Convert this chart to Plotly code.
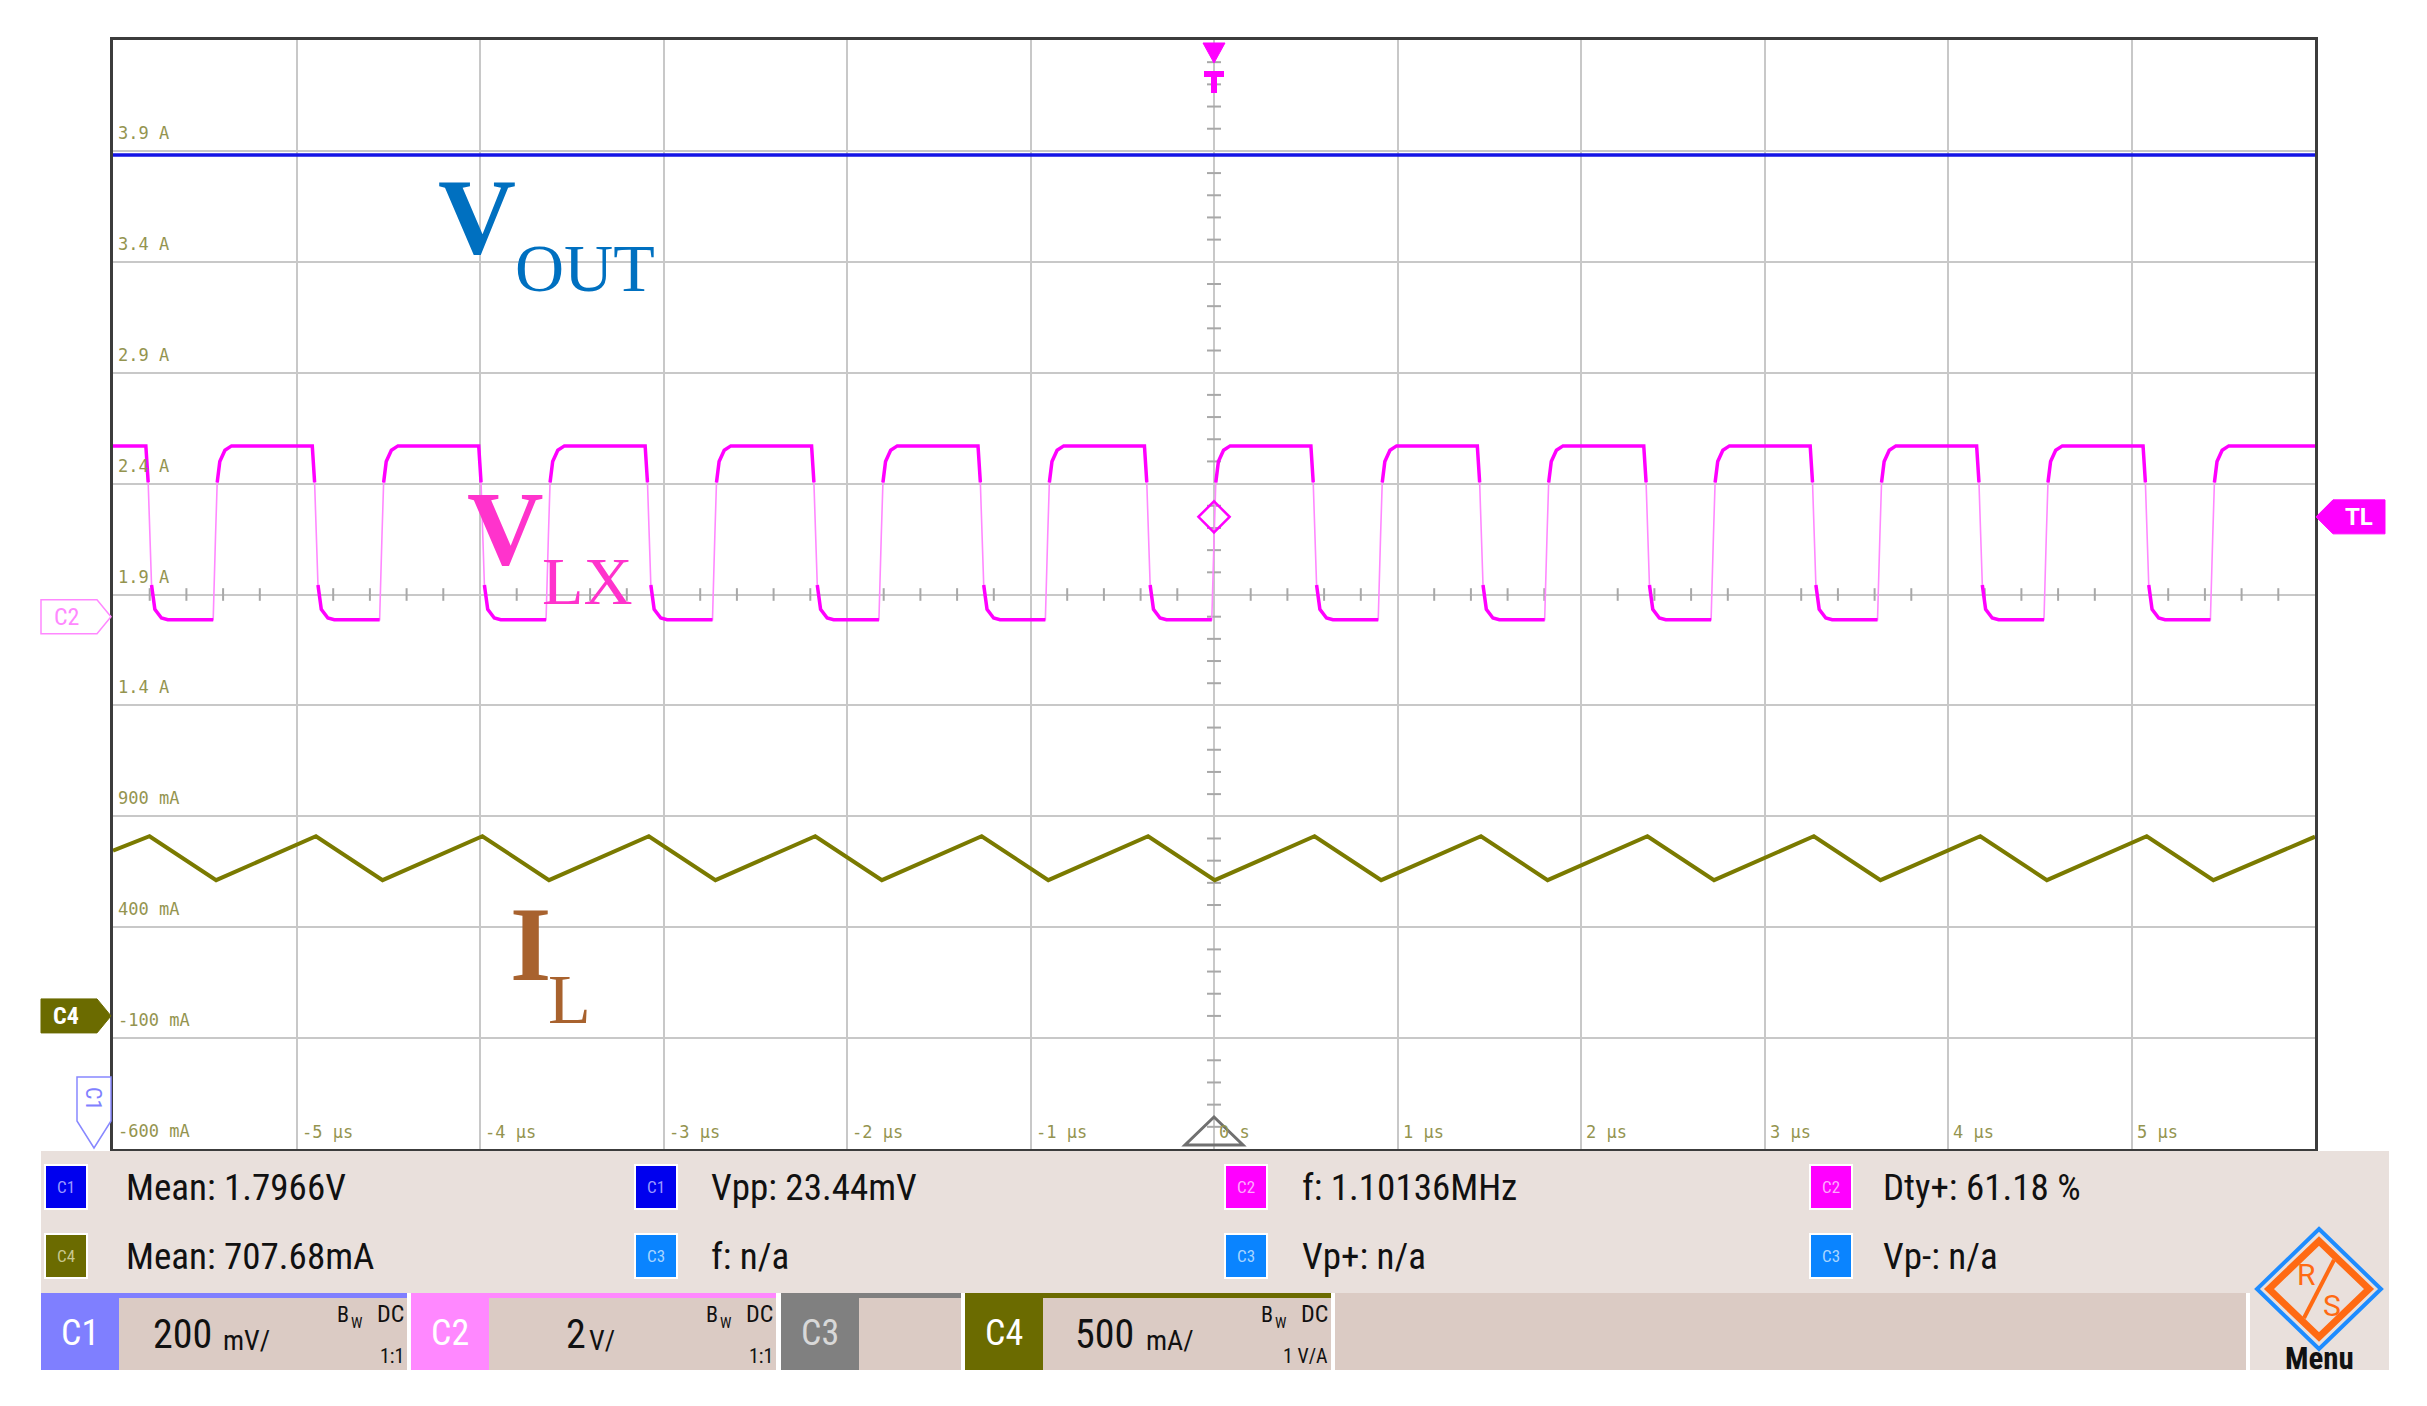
import plotly.graph_objects as go

time_ticks_us = [-5, -4, -3, -2, -1, 0, 1, 2, 3, 4, 5]
time_tick_labels = ["-5 µs", "-4 µs", "-3 µs", "-2 µs", "-1 µs", "0 s",
                    "1 µs", "2 µs", "3 µs", "4 µs", "5 µs"]
level_ticks = [3.9, 3.4, 2.9, 2.4, 1.9, 1.4, 0.9, 0.4, -0.1, -0.6]
level_tick_labels = ["3.9 A", "3.4 A", "2.9 A", "2.4 A", "1.9 A", "1.4 A",
                     "900 mA", "400 mA", "-100 mA", "-600 mA"]

# VOUT (C1), displayed position on the C4 graticule
vout_t_us = [-6.0, 6.0]
vout_level = [3.881, 3.881]

# VLX (C2) switching node: edge times and levels
vlx_rise_us = [-5.454, -4.547, -3.640, -2.733, -1.826, -0.919, -0.012,
               0.895, 1.802, 2.709, 3.616, 4.523, 5.430]
vlx_fall_us = [-5.821, -4.914, -4.007, -3.100, -2.193, -1.286, -0.379,
               0.528, 1.435, 2.342, 3.249, 4.156, 5.063]
vlx_high = 2.57
vlx_low = 1.786
trigger_level = 2.25

# IL (C4) inductor current: vertices of the triangle wave
il_t_us = [-6.0, -5.801, -5.438, -4.894, -4.531, -3.987, -3.624, -3.080, -2.717,
           -2.173, -1.810, -1.266, -0.903, -0.359, 0.004, 0.548, 0.911, 1.455,
           1.818, 2.362, 2.725, 3.269, 3.632, 4.176, 4.539, 5.083, 5.446, 6.0]
il_level = [0.745, 0.81, 0.612, 0.81, 0.612, 0.81, 0.612, 0.81, 0.612,
            0.81, 0.612, 0.81, 0.612, 0.81, 0.612, 0.81, 0.612, 0.81,
            0.612, 0.81, 0.612, 0.81, 0.612, 0.81, 0.612, 0.81, 0.612, 0.808]

# measurement panel
info_items = [
    ("C1", "#0000ee", "#9a9aff", "Mean: 1.7966V", 0, 0),
    ("C1", "#0000ee", "#9a9aff", "Vpp: 23.44mV", 1, 0),
    ("C2", "#ff00ff", "#ffa8ff", "f: 1.10136MHz", 2, 0),
    ("C2", "#ff00ff", "#ffa8ff", "Dty+: 61.18 %", 3, 0),
    ("C4", "#6b6b00", "#c8c890", "Mean: 707.68mA", 0, 1),
    ("C3", "#0a84ff", "#a8d4ff", "f: n/a", 1, 1),
    ("C3", "#0a84ff", "#a8d4ff", "Vp+: n/a", 2, 1),
    ("C3", "#0a84ff", "#a8d4ff", "Vp-: n/a", 3, 1),
]
channel_boxes = [
    ("C1", "#7f7fff", "white", "200", "mV/", "1:1"),
    ("C2", "#ff88ff", "white", "2", "V/", "1:1"),
    ("C3", "#808080", "#d8d8d8", None, None, None),
    ("C4", "#6b6b00", "white", "500", "mA/", "1 V/A"),
]

# ---------------- layout geometry (pixels of the target picture) ----------------
PAGE_OFF = 8                     # default body margin of the html page
W, H = 2427 - 2 * PAGE_OFF, 1406 - 2 * PAGE_OFF
L, R, T, B = 113, 2315, 40, 1149
Y0, Y1 = -0.6, 4.4
X0, X1 = -6.0, 6.0

NARROW = "Liberation Sans Narrow, Arial Narrow, Roboto Condensed, Roboto, sans-serif"
SANS = "Roboto, sans-serif"
SERIF = "Liberation Serif, Times New Roman, serif"
MONO = "DejaVu Sans Mono, Liberation Mono, monospace"


def xp(px):
    return (px - L) / (R - L)


def yp(py):
    return (B - py) / (B - T)


def py_of(v):
    return B - (v - Y0) / (Y1 - Y0) * (B - T)


shapes = []
annotations = []


def rect(x0, y0, x1, y1, fill, line_color=None, lw=0):
    shapes.append(dict(type="rect", xref="paper", yref="paper",
                       x0=xp(x0), x1=xp(x1), y0=yp(y1), y1=yp(y0),
                       fillcolor=fill, line=dict(width=lw, color=line_color or fill),
                       layer="above"))


def poly(points, fill, line_color, lw):
    path = "M " + " L ".join(f"{xp(x):.6f},{yp(y):.6f}" for x, y in points) + " Z"
    shapes.append(dict(type="path", xref="paper", yref="paper", path=path,
                       fillcolor=fill, line=dict(color=line_color, width=lw),
                       layer="above"))


def seg(x0, y0, x1, y1, color, lw):
    shapes.append(dict(type="line", xref="paper", yref="paper",
                       x0=xp(x0), x1=xp(x1), y0=yp(y0), y1=yp(y1),
                       line=dict(color=color, width=lw), layer="above"))


def txt(x, y, s, size, color, family, xanchor="left", angle=0):
    annotations.append(dict(xref="paper", yref="paper", x=xp(x), y=yp(y), text=s,
                            showarrow=False, xanchor=xanchor, yanchor="middle",
                            textangle=angle, borderpad=0,
                            font=dict(size=size, color=color, family=family)))


fig = go.Figure()

# ---- graticule minor ticks on the centre lines ----
tick_y = [round(Y0 + 0.1 * k, 3) for k in range(1, 50) if k % 5 != 0]
fig.add_trace(go.Scatter(x=[0] * len(tick_y), y=tick_y, mode="markers",
                         marker=dict(symbol="line-ew", size=10,
                                     line=dict(width=2, color="#a8a8a8")),
                         hoverinfo="skip"))
tick_x = [round(X0 + 0.2 * k, 3) for k in range(1, 60) if k % 5 != 0]
fig.add_trace(go.Scatter(x=tick_x, y=[1.9] * len(tick_x), mode="markers",
                         marker=dict(symbol="line-ns", size=9,
                                     line=dict(width=2, color="#a8a8a8")),
                         hoverinfo="skip"))

# ---- VOUT ----
fig.add_trace(go.Scatter(x=vout_t_us, y=vout_level, mode="lines",
                         line=dict(color="#1414e6", width=3.5)))

# ---- VLX ----
RISE = [(0, 0), (0.0127, 0.48), (0.0218, 0.79), (0.036, 0.91), (0.064, 0.975), (0.1, 1.0)]
FALL = [(0, 1), (0.0127, 0.79), (0.031, 0.20), (0.049, 0.06), (0.085, 0.01), (0.12, 0)]
events = sorted([(t, "r") for t in vlx_rise_us] + [(t, "f") for t in vlx_fall_us])
pts = [(X0, 1.0)]
for t, kind in events:
    for dt, f in (RISE if kind == "r" else FALL):
        pts.append((t + dt, f))
pts.append((X1, pts[-1][1]))
amp = vlx_high - vlx_low
vx = [p[0] for p in pts]
vy = [vlx_low + amp * p[1] for p in pts]
fig.add_trace(go.Scatter(x=vx, y=vy, mode="lines",
                         line=dict(color="#ff88ff", width=1.6)))
tx, ty = [], []
for (t0, f0), (t1, f1) in zip(pts[:-1], pts[1:]):
    thick = (f0 >= 0.75 and f1 >= 0.75) or (f0 <= 0.25 and f1 <= 0.25)
    if thick:
        if tx and tx[-1] is not None and tx[-1] == t0:
            tx.append(t1); ty.append(vlx_low + amp * f1)
        else:
            tx += [t0, t1]; ty += [vlx_low + amp * f0, vlx_low + amp * f1]
    else:
        if tx and tx[-1] is not None:
            tx.append(None); ty.append(None)
fig.add_trace(go.Scatter(x=tx, y=ty, mode="lines",
                         line=dict(color="#ff00ff", width=3.5)))

# ---- IL ----
fig.add_trace(go.Scatter(x=il_t_us, y=il_level, mode="lines",
                         line=dict(color="#7a7a00", width=4)))

# ---- trigger point diamond ----
fig.add_trace(go.Scatter(x=[0], y=[trigger_level], mode="markers",
                         marker=dict(symbol="diamond-open", size=24, color="#ff00ff",
                                     line=dict(width=2.5, color="#ff00ff"))))

# ---- axis labels drawn inside the graticule ----
for v, lab in zip(level_ticks, level_tick_labels):
    annotations.append(dict(xref="paper", yref="y", x=0, y=v, xshift=4, yshift=18,
                            text=lab, showarrow=False, xanchor="left", yanchor="middle",
                            borderpad=0, font=dict(size=17, color="#94944f", family=MONO)))
for t, lab in zip(time_ticks_us, time_tick_labels):
    annotations.append(dict(xref="x", yref="paper", x=t, y=0, xshift=4, yshift=17,
                            text=lab, showarrow=False, xanchor="left", yanchor="middle",
                            borderpad=0, font=dict(size=17, color="#94944f", family=MONO)))

# ---- signal names ----
txt(437, 216, "<b>V</b>", 108, "#0070c0", SERIF)
txt(514, 268, "OUT", 68, "#0070c0", SERIF)
txt(466, 528, "<b>V</b>", 106, "#ff33cc", SERIF)
txt(541, 581, "LX", 68, "#ff33cc", SERIF)
txt(509, 945, "<b>I</b>", 106, "#a8622e", SERIF)
txt(547, 999, "L", 70, "#a8622e", SERIF)

# ---- trigger marker at top ----
poly([(1203, 43), (1225, 43), (1214, 63)], "#ff00ff", "#ff00ff", 1)
rect(1204, 71, 1224, 77, "#ff00ff")
rect(1211, 71, 1217, 93, "#ff00ff")

# ---- horizontal position marker at bottom ----
poly([(1214, 1117), (1185, 1145), (1243, 1145)], "rgba(0,0,0,0)", "#707070", 3)

# ---- channel ground markers ----
yc2 = py_of(1.80)
poly([(41, yc2 - 17), (97, yc2 - 17), (111, yc2), (97, yc2 + 17), (41, yc2 + 17)],
     "white", "#ff88ff", 1.5)
txt(66, yc2, "C2", 24, "#ff88ff", NARROW, xanchor="center")
yc4 = py_of(0.0)
poly([(41, yc4 - 17), (97, yc4 - 17), (111, yc4), (97, yc4 + 17), (41, yc4 + 17)],
     "#6b6b00", "#6b6b00", 1)
txt(66, yc4, "<b>C4</b>", 24, "white", NARROW, xanchor="center")
poly([(77, 1077), (111, 1077), (111, 1121), (94, 1148), (77, 1121)],
     "white", "#8888ff", 1.5)
txt(94, 1098, "C1", 22, "#8080ff", NARROW, xanchor="center", angle=90)
ytl = py_of(trigger_level)
poly([(2316, ytl), (2333, ytl - 17), (2385, ytl - 17), (2385, ytl + 17), (2333, ytl + 17)],
     "#ff00ff", "#ff00ff", 1)
txt(2359, ytl, "<b>TL</b>", 24, "white", SANS, xanchor="center")

# ---- measurement panel ----
rect(41, 1151, 2389, 1293, "#e9e0dc")
icon_x = [45, 635, 1225, 1810]
text_x = [125, 710, 1301, 1882]
row_y = [1187, 1256]
for name, col, light, label, c, r in info_items:
    cx, cy = icon_x[c], row_y[r]
    rect(cx, cy - 22, cx + 42, cy + 22, col, "white", 2)
    txt(cx + 21, cy, name, 17, light, NARROW, xanchor="center")
    txt(text_x[c], cy, label, 37, "#111111", NARROW)

# ---- channel settings row ----
box_x = [(41, 407), (411, 776), (781, 961), (965, 1331)]
scale_pos = {"C1": (152, 222), "C2": (565, 588), "C4": (1074, 1145)}
for (x0, x1), (name, col, tcol, big, small, probe) in zip(box_x, channel_boxes):
    rect(x0, 1293, x1, 1370, "#dbcbc4")
    rect(x0, 1293, x1, 1298, col)
    rect(x0, 1293, x0 + 78, 1370, col)
    txt(x0 + 39, 1333, name, 36, tcol, NARROW, xanchor="center")
    if big is not None:
        bx, sx = scale_pos[name]
        txt(bx, 1334, big, 40, "#111111", NARROW)
        txt(sx, 1340, small, 28, "#111111", NARROW)
        txt(x1 - 71, 1314, "B", 22, "#111111", NARROW)
        txt(x1 - 57, 1323, "W", 15, "#111111", NARROW)
        txt(x1 - 2, 1314, "DC", 24, "#111111", NARROW, xanchor="right")
        txt(x1 - 2, 1356, probe, 20, "#111111", NARROW, xanchor="right")
rect(1335, 1293, 2246, 1370, "#dbcbc4")
rect(2250, 1293, 2389, 1370, "#e9e0dc")

# ---- R&S logo / menu ----
poly([(2319, 1229), (2381, 1289), (2319, 1349), (2257, 1289)], "#e9e0dc", "#1e8cff", 4)
poly([(2319, 1241), (2369, 1289), (2319, 1337), (2269, 1289)], "#e9e0dc", "#ff6a13", 7)
seg(2334, 1260, 2304, 1318, "#ff6a13", 4)
txt(2306, 1274, "R", 30, "#ff6a13", SANS, xanchor="center")
txt(2332, 1305, "S", 30, "#ff6a13", SANS, xanchor="center")
txt(2319, 1358, "<b>Menu</b>", 31, "#111111", NARROW, xanchor="center")

axis_common = dict(showgrid=True, gridcolor="#c8c8c8", gridwidth=2, zeroline=False,
                   showline=True, linecolor="#3c3c3c", linewidth=3, mirror=True,
                   showticklabels=False, ticks="", fixedrange=True)
ml, mt = L - PAGE_OFF, T - PAGE_OFF
fig.update_layout(
    width=W, height=H, autosize=False,
    margin=dict(l=ml, r=W - ml - (R - L), t=mt, b=H - mt - (B - T), pad=0),
    paper_bgcolor="white", plot_bgcolor="white", showlegend=False,
    xaxis=dict(range=[X0, X1], tick0=0, dtick=1, **axis_common),
    yaxis=dict(range=[Y0, Y1], tick0=Y0, dtick=0.5, **axis_common),
    shapes=shapes, annotations=annotations,
)

fig.write_html("out.html")
